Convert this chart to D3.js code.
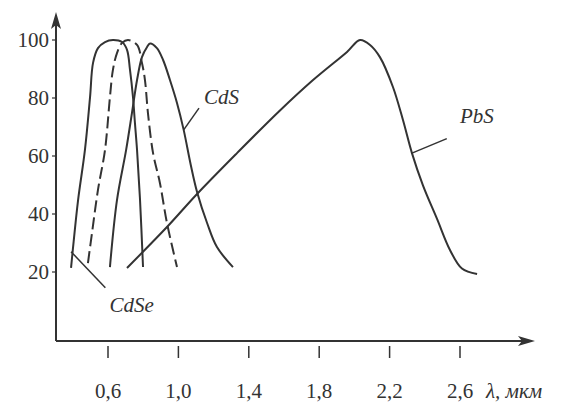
<!DOCTYPE html>
<html>
<head>
<meta charset="utf-8">
<script src="https://cdn.jsdelivr.net/npm/d3@7"></script>
<style>
  body { margin: 0; background: #fff; }
  text { font-family: "Liberation Serif", "DejaVu Serif", serif; fill: #333; }
</style>
</head>
<body>
<svg id="chart"></svg>
<script>
const width = 578;
const height = 407;

// tick labels
const xTicks = [0.6, 1.0, 1.4, 1.8, 2.2, 2.6];
const yTicks = [20, 40, 60, 80, 100];

// curves: [wavelength (um), relative sensitivity (%)]
const cdse1 = [[0.39, 21.4], [0.40, 27.6], [0.43, 44.8], [0.469, 62.1], [0.498, 80.3], [0.515, 92.1],
  [0.543, 97.2], [0.583, 99.3], [0.628, 100], [0.68, 99.3], [0.708, 96.6], [0.725, 89.7],
  [0.742, 80.3], [0.753, 71.4], [0.765, 62.1], [0.782, 44.8], [0.799, 21.7]];
const cdse2 = [[0.486, 23.1], [0.509, 33.4], [0.543, 48.3], [0.583, 62.1], [0.611, 80.3], [0.628, 89.7],
  [0.651, 95.5], [0.68, 99.0], [0.714, 100], [0.765, 98.3], [0.793, 92.1], [0.81, 86.2],
  [0.827, 74.8], [0.856, 61.0], [0.895, 50.7], [0.935, 36.9], [0.992, 21.7]];
const cds = [[0.611, 21.7], [0.651, 44.8], [0.703, 62.1], [0.736, 74.8], [0.765, 86.2], [0.793, 94.1],
  [0.822, 97.6], [0.839, 98.8], [0.878, 97.2], [0.913, 93.1], [0.952, 86.2], [0.992, 78.3],
  [1.03, 69.0], [1.07, 57.0], [1.106, 47.6], [1.163, 36.9], [1.219, 28.6], [1.31, 21.7]];
const pbs = [[0.708, 21.4], [0.935, 35.5], [1.106, 46.9], [1.333, 61.0], [1.577, 75.7], [1.765, 86.2],
  [1.958, 95.9], [2.032, 100], [2.089, 98.3], [2.145, 94.1], [2.219, 83.8], [2.276, 72.4],
  [2.327, 61.0], [2.39, 49.8], [2.469, 38.4], [2.543, 27.6], [2.611, 21.2], [2.697, 19.3]];

// labels: point on curve, end of leader, label position
const labels = [
  { name: "CdS",  at: [1.03, 69.0], to: [1.117, 76.5], text: [1.145, 80.5] },
  { name: "PbS",  at: [2.327, 61.0], to: [2.525, 66.0], text: [2.6, 74.0] },
  { name: "CdSe", at: [0.39, 27.0],  to: [0.585, 14.6], text: [0.608, 8.6] }
];

const x = d3.scaleLinear().domain([0.6, 2.6]).range([108, 460]);
const y = d3.scaleLinear().domain([20, 100]).range([272, 40]);

const x0 = 56, yAxisY = 341;

const svg = d3.select('#chart')
  .attr('width', width)
  .attr('height', height);

const ink = '#333';

// axes
svg.append('line')
  .attr('x1', x0).attr('y1', yAxisY).attr('x2', 530).attr('y2', yAxisY)
  .attr('stroke', ink).attr('stroke-width', 2);
svg.append('path')
  .attr('d', `M535,${yAxisY} L518,${yAxisY - 5} L522,${yAxisY} L518,${yAxisY + 5} Z`)
  .attr('fill', ink);
svg.append('line')
  .attr('x1', x0).attr('y1', yAxisY).attr('x2', x0).attr('y2', 17)
  .attr('stroke', ink).attr('stroke-width', 2);
svg.append('path')
  .attr('d', `M${x0},12 L${x0 - 5},29 L${x0},25 L${x0 + 5},29 Z`)
  .attr('fill', ink);

// x ticks
svg.selectAll('.xt').data(xTicks).join('line')
  .attr('class', 'xt')
  .attr('x1', d => x(d)).attr('x2', d => x(d))
  .attr('y1', yAxisY + 5).attr('y2', yAxisY + 17)
  .attr('stroke', ink).attr('stroke-width', 1.5);
svg.selectAll('.xl').data(xTicks).join('text')
  .attr('class', 'xl')
  .attr('x', d => x(d)).attr('y', 398)
  .attr('text-anchor', 'middle')
  .attr('font-size', 21)
  .text(d => d.toFixed(1).replace('.', ','));

svg.append('text')
  .attr('x', 486).attr('y', 398)
  .attr('font-size', 21)
  .attr('font-style', 'italic')
  .text('λ, мкм');

// y ticks
svg.selectAll('.yt').data(yTicks).join('line')
  .attr('class', 'yt')
  .attr('x1', x0 - 4).attr('x2', x0)
  .attr('y1', d => y(d)).attr('y2', d => y(d))
  .attr('stroke', ink).attr('stroke-width', 1.2);
svg.selectAll('.yl').data(yTicks).join('text')
  .attr('class', 'yl')
  .attr('x', 49).attr('y', d => y(d))
  .attr('dy', '0.35em')
  .attr('text-anchor', 'end')
  .attr('font-size', 21)
  .text(d => d);

// curves
const line = d3.line()
  .x(d => x(d[0])).y(d => y(d[1]))
  .curve(d3.curveCatmullRom.alpha(0.5));

const curves = [
  { data: cdse1, dash: null },
  { data: cdse2, dash: '12,5' },
  { data: cds, dash: null },
  { data: pbs, dash: null }
];

svg.selectAll('.curve').data(curves).join('path')
  .attr('class', 'curve')
  .attr('d', d => line(d.data))
  .attr('fill', 'none')
  .attr('stroke', ink)
  .attr('stroke-width', 2)
  .attr('stroke-dasharray', d => d.dash);

// annotations
svg.selectAll('.lead').data(labels).join('line')
  .attr('class', 'lead')
  .attr('x1', d => x(d.at[0])).attr('y1', d => y(d.at[1]))
  .attr('x2', d => x(d.to[0])).attr('y2', d => y(d.to[1]))
  .attr('stroke', ink).attr('stroke-width', 1.5);
svg.selectAll('.lab').data(labels).join('text')
  .attr('class', 'lab')
  .attr('x', d => x(d.text[0])).attr('y', d => y(d.text[1]))
  .attr('dy', '0.35em')
  .attr('font-size', 21)
  .attr('font-style', 'italic')
  .text(d => d.name);
</script>
</body>
</html>
